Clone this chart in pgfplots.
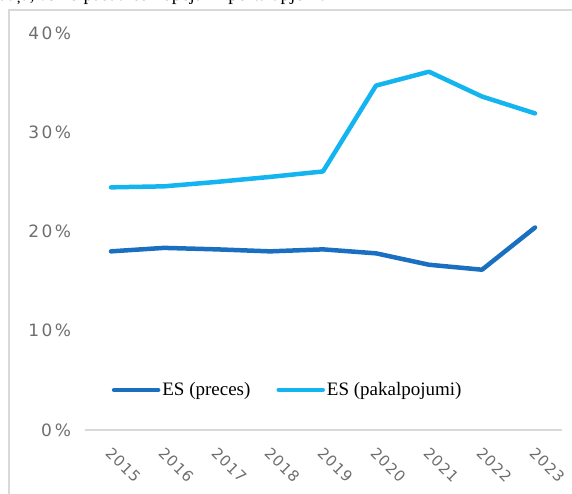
\documentclass[border=0pt]{standalone}
\usepackage{pgfplots}
\pgfplotsset{compat=1.18}
\usepackage{fontspec}
\setmainfont{Liberation Serif}
\newfontfamily\tickfont[LetterSpace=14]{DejaVu Sans}
\newfontfamily\xtickfont[LetterSpace=8]{DejaVu Sans}
\definecolor{dblue}{HTML}{1A6FC0}
\definecolor{lblue}{HTML}{14B4F0}
\definecolor{tickgray}{HTML}{6E6E6E}
\definecolor{framegray}{HTML}{D9D9D9}
\begin{document}
\begin{tikzpicture}[x=1pt,y=1pt]
\useasboundingbox (0,0) rectangle (572,493);
\begin{scope}
\clip (0,0) rectangle (572,493);
\node[anchor=base west, inner sep=0, font=\fontsize{19}{22}\selectfont] at (-2,492.5) {daļa, \% no pasaules kopējā importa apjomā};
\draw[framegray, line width=2pt] (8.5,-20) -- (8.5,482.5) -- (600,482.5);
\end{scope}
\begin{axis}[
  at={(84.5pt,63pt)}, anchor=south west, scale only axis,
  width=477pt, height=397pt,
  xmin=-0.5, xmax=8.5, ymin=0, ymax=40,
  axis x line*=bottom, axis y line*=left,
  x axis line style={draw=framegray, line width=1.5pt},
  y axis line style={draw=none},
  major tick length=0pt,
  /pgf/number format/assume math mode=true,
  xtick={0,...,8},
  xticklabels={2015,2016,2017,2018,2019,2020,2021,2022,2023},
  ytick={0,10,20,30,40},
  yticklabels={0\,\%,10\%,20\%,30\%,40\%},
  yticklabel style={font=\tickfont\fontsize{17}{17}\selectfont, text=tickgray, xshift=-10pt},
  xticklabel style={font=\xtickfont\fontsize{15}{15}\selectfont, text=tickgray, rotate=-45, anchor=north west, xshift=9pt, yshift=-7pt},
  legend style={at={(0.426,0.101)}, anchor=center, draw=none, fill=none,
    legend columns=2, font=\fontsize{19}{22}\selectfont,
    nodes={inner sep=2pt},
    /tikz/every even column/.append style={column sep=24pt}},
  legend cell align=left,
  legend image code/.code={\draw[#1] (0pt,0pt) -- (44pt,0pt);},
  clip=false,
]
\addplot[dblue, line width=4.5pt, line cap=round, line join=round] coordinates {
(0,18.0) (1,18.35) (2,18.2) (3,18.0) (4,18.2) (5,17.8) (6,16.65) (7,16.15) (8,20.4)};
\addlegendentry{ES (preces)}
\addplot[lblue, line width=4.5pt, line cap=round, line join=round] coordinates {
(0,24.45) (1,24.55) (2,25.0) (3,25.5) (4,26.05) (5,34.7) (6,36.1) (7,33.6) (8,31.9)};
\addlegendentry{ES (pakalpojumi)}
\end{axis}
\end{tikzpicture}
\end{document}
